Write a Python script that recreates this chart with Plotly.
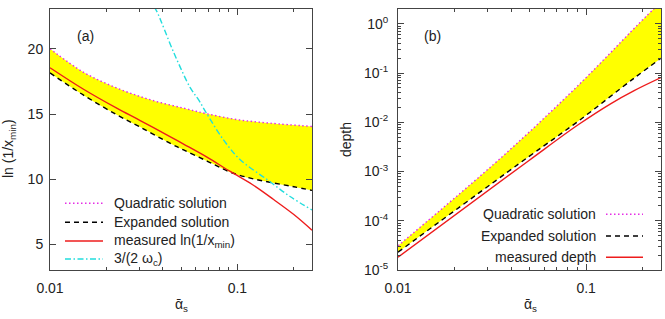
import numpy as np
import plotly.graph_objects as go
from plotly.subplots import make_subplots

# ---------------- data: panel (a) ----------------
quad_a_x = [0.01, 0.0151, 0.0227, 0.0342, 0.0516, 0.0688, 0.1, 0.15, 0.25]
quad_a_y = [20.0, 18.2, 17.0, 16.1, 15.45, 15.02, 14.57, 14.3, 14.05]

exp_a_x = [0.01, 0.0151, 0.0227, 0.0303, 0.0439, 0.0516, 0.0688, 0.0915, 0.12, 0.156, 0.2, 0.25]
exp_a_y = [18.15, 16.45, 14.95, 14.0, 12.75, 12.25, 11.4, 10.55, 10.05, 9.72, 9.43, 9.15]

meas_a_x = [0.01, 0.0151, 0.0227, 0.0303, 0.0439, 0.0516, 0.0688, 0.0915, 0.12, 0.156, 0.2, 0.25]
meas_a_y = [18.55, 16.9, 15.45, 14.5, 13.25, 12.7, 11.7, 10.6, 9.6, 8.45, 7.3, 6.1]

omega_x = [0.036, 0.0372, 0.0461, 0.0561, 0.062, 0.0688, 0.0845, 0.1035, 0.144, 0.19, 0.25]
omega_y = [23.2, 22.85, 19.6, 17.0, 16.1, 15.0, 13.0, 11.5, 9.98, 8.7, 7.65]

# ---------------- data: panel (b) ----------------
quad_b_x = [0.01, 0.0358, 0.0907, 0.229, 0.25]
quad_b_y = [3.1e-5, 2.0e-3, 5.6e-2, 2.0, 2.6]

exp_b_x = [0.01, 0.0495, 0.0907, 0.18, 0.25]
exp_b_y = [2.3e-5, 2.0e-3, 1.05e-2, 7.9e-2, 0.2]

meas_b_x = [0.01, 0.0495, 0.0907, 0.1355, 0.18, 0.25]
meas_b_y = [1.82e-5, 1.66e-3, 8.9e-3, 2.4e-2, 4.4e-2, 8.1e-2]

x_tickvals = [0.01, 0.1]
x_ticktext = ["0.01", "0.1"]
x_minor = [0.02, 0.03, 0.04, 0.05, 0.06, 0.07, 0.08, 0.09, 0.2]
ya_tickvals = [5, 10, 15, 20]
yb_tickvals = [1e-5, 1e-4, 1e-3, 1e-2, 1e-1, 1]
yb_ticktext = ["10<sup>-5</sup>", "10<sup>-4</sup>", "10<sup>-3</sup>",
               "10<sup>-2</sup>", "10<sup>-1</sup>", "10<sup>0</sup>"]
yb_minor = [m * 10.0 ** e for e in range(-5, 1) for m in range(2, 10)]

legend_a = ["Quadratic solution", "Expanded solution",
            "measured ln(1/x<sub>min</sub>)", "3/(2 ω<sub>c</sub>)"]
legend_b = ["Quadratic solution", "Expanded solution", "measured depth"]
xtitle = "\u1FB1<sub>s</sub>"

# ---------------- style ----------------
FONT = "Liberation Sans, Arial, DejaVu Sans, sans-serif"
FS = 14
C_QUAD = "#e52ee5"
C_EXP = "#000000"
C_MEAS = "#ee1c1c"
C_OMEGA = "#22dddd"
C_FILL = "#ffff00"
FRAME = "#444444"
D_DOT = "1.5px,2.5px"
D_DASH = "5px,4px"
D_DASHDOT = "6px,2.5px,1.5px,2.5px"

W, H = 665, 319
ML, MR, MT, MB = 50, 4, 9, 49
PW = W - ML - MR
PH = H - MT - MB


def X(px):
    return (px - ML) / PW


def Y(py):
    return (H - MB - py) / PH


fig = make_subplots(rows=1, cols=2, horizontal_spacing=0.0)
fig.update_layout(
    xaxis=dict(domain=[0, X(312)]),
    xaxis2=dict(domain=[X(398), 1.0]),
)

# fills (between quadratic and expanded)
fig.add_trace(go.Scatter(x=exp_a_x, y=exp_a_y, mode="lines", line=dict(width=0, shape="spline"),
                         showlegend=False, hoverinfo="skip"), 1, 1)
fig.add_trace(go.Scatter(x=quad_a_x, y=quad_a_y, mode="lines", line=dict(width=0, shape="spline"),
                         fill="tonexty", fillcolor=C_FILL, showlegend=False, hoverinfo="skip"), 1, 1)
fig.add_trace(go.Scatter(x=exp_b_x, y=exp_b_y, mode="lines", line=dict(width=0, shape="spline"),
                         showlegend=False, hoverinfo="skip"), 1, 2)
fig.add_trace(go.Scatter(x=quad_b_x, y=quad_b_y, mode="lines", line=dict(width=0, shape="spline"),
                         fill="tonexty", fillcolor=C_FILL, showlegend=False, hoverinfo="skip"), 1, 2)

LW = 1.4
# panel (a) lines
fig.add_trace(go.Scatter(x=quad_a_x, y=quad_a_y, mode="lines", name=legend_a[0],
                         line=dict(color=C_QUAD, dash=D_DOT, width=LW, shape="spline")), 1, 1)
fig.add_trace(go.Scatter(x=exp_a_x, y=exp_a_y, mode="lines", name=legend_a[1],
                         line=dict(color=C_EXP, dash=D_DASH, width=LW, shape="spline")), 1, 1)
fig.add_trace(go.Scatter(x=meas_a_x, y=meas_a_y, mode="lines", name=legend_a[2],
                         line=dict(color=C_MEAS, width=LW, shape="spline")), 1, 1)
fig.add_trace(go.Scatter(x=omega_x, y=omega_y, mode="lines", name=legend_a[3],
                         line=dict(color=C_OMEGA, dash=D_DASHDOT, width=LW, shape="spline")), 1, 1)
# panel (b) lines
fig.add_trace(go.Scatter(x=quad_b_x, y=quad_b_y, mode="lines", name=legend_b[0],
                         line=dict(color=C_QUAD, dash=D_DOT, width=LW, shape="spline")), 1, 2)
fig.add_trace(go.Scatter(x=exp_b_x, y=exp_b_y, mode="lines", name=legend_b[1],
                         line=dict(color=C_EXP, dash=D_DASH, width=LW, shape="spline")), 1, 2)
fig.add_trace(go.Scatter(x=meas_b_x, y=meas_b_y, mode="lines", name=legend_b[2],
                         line=dict(color=C_MEAS, width=LW, shape="spline")), 1, 2)

tf = dict(family=FONT, size=FS, color="#222222")
axis_common = dict(showline=True, linecolor=FRAME, linewidth=1, mirror="allticks",
                   ticks="inside", ticklen=6, tickcolor=FRAME, showgrid=False, zeroline=False,
                   tickfont=tf)
xcommon = dict(type="log", range=[np.log10(0.01), np.log10(0.25)], tickmode="array",
               tickvals=x_tickvals, ticktext=x_ticktext, ticklabelstandoff=5,
               minor=dict(tickmode="array", tickvals=x_minor, ticks="inside", ticklen=3,
                          tickcolor=FRAME, showgrid=False))
fig.update_xaxes(**axis_common, **xcommon)
fig.update_yaxes(axis_common)
fig.update_yaxes(range=[3.05, 23.05], tickmode="array", tickvals=ya_tickvals,
                 ticklabelstandoff=3, row=1, col=1)
fig.update_yaxes(type="log", range=[-5, np.log10(2.0)], tickmode="array", tickvals=yb_tickvals,
                 ticktext=yb_ticktext, ticklabelstandoff=6,
                 minor=dict(tickmode="array", tickvals=yb_minor, ticks="inside", ticklen=3,
                            tickcolor=FRAME, showgrid=False),
                 row=1, col=2)

shapes = []
annots = []

# legend (a): sample left, text right
rows_a = [203.3, 222.3, 241.0, 259.0]
styles_a = [(C_QUAD, D_DOT), (C_EXP, D_DASH), (C_MEAS, "solid"), (C_OMEGA, D_DASHDOT)]
for i, (txt, (col, dsh)) in enumerate(zip(legend_a, styles_a)):
    shapes.append(dict(type="line", xref="paper", yref="paper", x0=X(65), x1=X(103),
                       y0=Y(rows_a[i]), y1=Y(rows_a[i]), line=dict(color=col, dash=dsh, width=LW)))
    annots.append(dict(xref="paper", yref="paper", x=X(112), y=Y(rows_a[i]), text=txt,
                       showarrow=False, xanchor="left", yanchor="middle", font=tf))

# legend (b): text right-aligned, sample right
rows_b = [214.3, 236.0, 257.3]
styles_b = [(C_QUAD, D_DOT), (C_EXP, D_DASH), (C_MEAS, "solid")]
for i, (txt, (col, dsh)) in enumerate(zip(legend_b, styles_b)):
    shapes.append(dict(type="line", xref="paper", yref="paper", x0=X(606), x1=X(643),
                       y0=Y(rows_b[i]), y1=Y(rows_b[i]), line=dict(color=col, dash=dsh, width=LW)))
    annots.append(dict(xref="paper", yref="paper", x=X(598), y=Y(rows_b[i]), text=txt,
                       showarrow=False, xanchor="right", yanchor="middle", font=tf))

# panel labels
annots.append(dict(xref="paper", yref="paper", x=X(85), y=Y(36), text="(a)", showarrow=False,
                   xanchor="center", yanchor="middle", font=tf))
annots.append(dict(xref="paper", yref="paper", x=X(432), y=Y(36), text="(b)", showarrow=False,
                   xanchor="center", yanchor="middle", font=tf))

# axis titles
annots.append(dict(xref="paper", yref="paper", x=X(181), y=Y(305), text=xtitle,
                   showarrow=False, xanchor="center", yanchor="middle", font=tf))
annots.append(dict(xref="paper", yref="paper", x=X(530), y=Y(305), text=xtitle,
                   showarrow=False, xanchor="center", yanchor="middle", font=tf))
annots.append(dict(xref="paper", yref="paper", x=X(9), y=Y(149), text="ln (1/x<sub>min</sub>)",
                   showarrow=False, xanchor="center", yanchor="middle", textangle=-90, font=tf))
annots.append(dict(xref="paper", yref="paper", x=X(346), y=Y(140), text="depth",
                   showarrow=False, xanchor="center", yanchor="middle", textangle=-90, font=tf))

fig.update_layout(
    width=W, height=H, margin=dict(l=ML, r=MR, t=MT, b=MB, autoexpand=False),
    paper_bgcolor="white", plot_bgcolor="white", showlegend=False,
    shapes=shapes, annotations=annots, font=tf,
)

fig.write_html("out.html")
